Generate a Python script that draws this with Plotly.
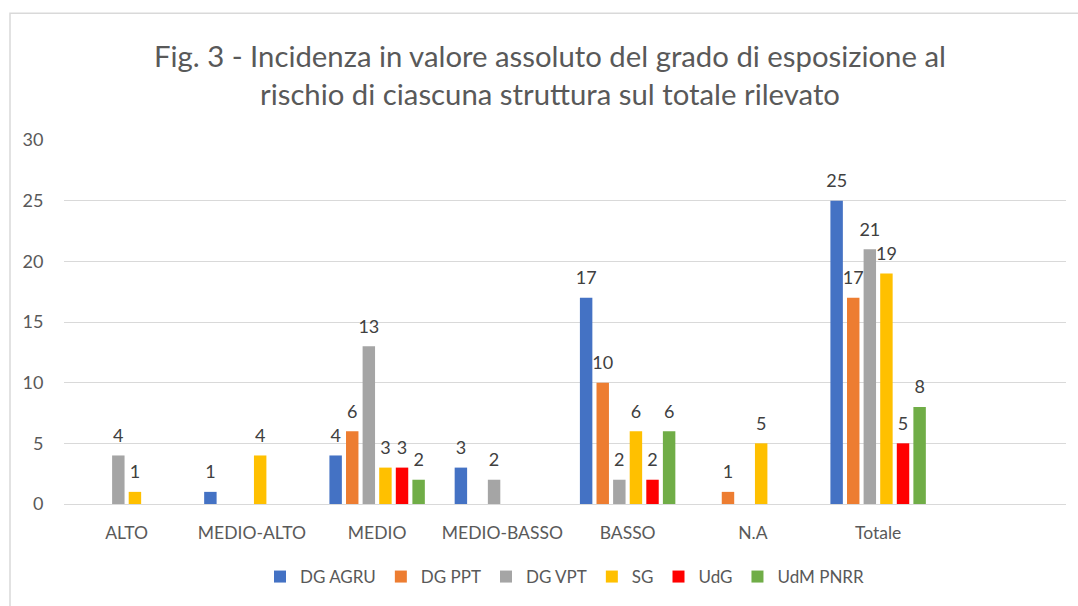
import plotly.graph_objects as go

categories = ["ALTO", "MEDIO-ALTO", "MEDIO", "MEDIO-BASSO", "BASSO", "N.A", "Totale"]
series_names = ["DG AGRU", "DG PPT", "DG VPT", "SG", "UdG", "UdM PNRR"]
dg_agru = [None, 1, 4, 3, 17, None, 25]
dg_ppt = [None, None, 6, None, 10, 1, 17]
dg_vpt = [4, None, 13, 2, 2, None, 21]
sg = [1, 4, 3, None, 6, 5, 19]
udg = [None, None, 3, None, 2, None, 5]
udm_pnrr = [None, None, 2, None, 6, None, 8]
colors = ["#4472C4", "#ED7D31", "#A5A5A5", "#FFC000", "#FF0000", "#70AD47"]
title_lines = ["Fig. 3 - Incidenza in valore assoluto del grado di esposizione al",
               "rischio di ciascuna struttura sul totale rilevato"]

FONT = "Lato, 'Open Sans', sans-serif"
TXT = "#595959"

fig = go.Figure()
all_series = [dg_agru, dg_ppt, dg_vpt, sg, udg, udm_pnrr]
for i, (name, vals, col) in enumerate(zip(series_names, all_series, colors)):
    fig.add_trace(go.Bar(
        x=categories, y=vals, name=name, offsetgroup=str(i),
        marker=dict(color=col, line=dict(width=0)),
    ))
for i, (name, vals) in enumerate(zip(series_names, all_series)):
    fig.add_trace(go.Scatter(
        x=categories, y=vals, name=name, offsetgroup=str(i), mode="markers+text",
        marker=dict(size=13, color="rgba(0,0,0,0)"),
        text=[("" if v is None else str(v)) for v in vals],
        textposition="top center", showlegend=False, hoverinfo="skip",
        textfont=dict(size=18, color="#404040", family=FONT),
        cliponaxis=False,
    ))

W, H = 1078, 606
ml, mr, mt, mb = 64, 12, 140, 101
pw, ph = W - ml - mr, H - mt - mb

def px_x(p):
    return (p - ml) / pw

def px_y(p):
    return (H - mb - p) / ph

fig.update_layout(
    width=W, height=H,
    margin=dict(l=ml, r=mr, t=mt, b=mb),
    paper_bgcolor="white", plot_bgcolor="white",
    barmode="group", bargap=0.205, bargroupgap=0.25,
    scattermode="group", scattergap=0.205,
    font=dict(family=FONT, color=TXT, size=16),
    showlegend=True,
    legend=dict(orientation="h", x=0.5, xanchor="center", y=px_y(577), yanchor="middle",
                font=dict(size=17, color=TXT, family=FONT),
                traceorder="normal"),
    xaxis=dict(type="category", categoryarray=categories, range=[-0.5, 7.5],
               showgrid=False, showline=False, zeroline=False,
               ticks="outside", ticklen=13, tickcolor="rgba(0,0,0,0)",
               tickfont=dict(size=17.5, color=TXT, family=FONT)),
    yaxis=dict(range=[0, 30], dtick=5, showgrid=True, gridcolor="#D9D9D9", gridwidth=1,
               zeroline=True, zerolinecolor="#D9D9D9", zerolinewidth=1, showline=False,
               ticks="outside", ticklen=16, tickcolor="rgba(0,0,0,0)",
               tickfont=dict(size=18, color=TXT, family=FONT)),
    shapes=[dict(type="rect", xref="paper", yref="paper",
                 x0=px_x(10), x1=px_x(1200), y0=px_y(800), y1=px_y(13),
                 line=dict(color="#D9D9D9", width=1.5), fillcolor="rgba(0,0,0,0)", layer="below")],
    annotations=[
        dict(text=title_lines[0], xref="paper", yref="paper", x=px_x(550), y=px_y(55),
             xanchor="center", yanchor="middle", showarrow=False,
             font=dict(size=29.3, color=TXT, family=FONT)),
        dict(text=title_lines[1], xref="paper", yref="paper", x=px_x(550), y=px_y(93),
             xanchor="center", yanchor="middle", showarrow=False,
             font=dict(size=29.3, color=TXT, family=FONT)),
    ],
)
fig.write_html("out.html", config={"displayModeBar": False},
               post_script="document.body.style.margin='0px';")
